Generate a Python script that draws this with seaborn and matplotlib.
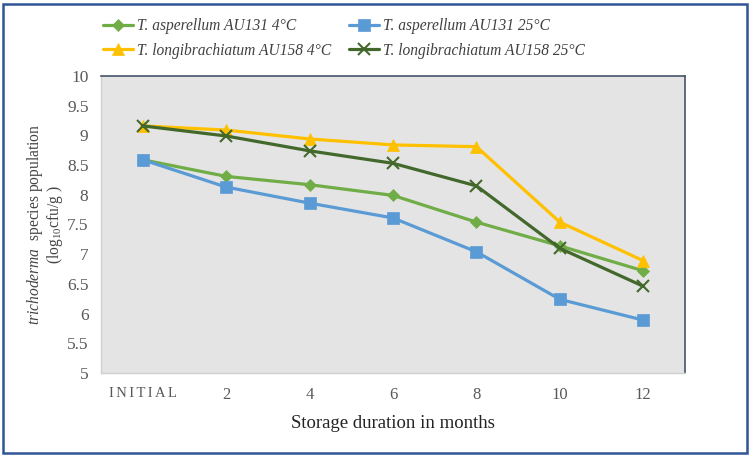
import matplotlib
matplotlib.use("Agg")
import matplotlib.pyplot as plt
import seaborn as sns
import pandas as pd
from matplotlib.patches import Rectangle

categories = ["I\u2006N\u2006I\u2006T\u2006I\u2006A\u2006L", "2", "4", "6", "8", "10", "12"]
asp_4 = [8.59, 8.31, 8.17, 7.99, 7.54, 7.14, 6.72]
asp_25 = [8.59, 8.13, 7.86, 7.61, 7.04, 6.24, 5.89]
lon_4 = [9.16, 9.09, 8.94, 8.84, 8.81, 7.54, 6.89]
lon_25 = [9.16, 8.99, 8.74, 8.53, 8.15, 7.10, 6.46]
series_names = ["T. asperellum AU131 4°C", "T. longibrachiatum AU158 4°C",
                "T. asperellum AU131 25°C", "T. longibrachiatum AU158 25°C"]
series_values = [asp_4, lon_4, asp_25, lon_25]
y_ticks = [5, 5.5, 6, 6.5, 7, 7.5, 8, 8.5, 9, 9.5, 10]

colors = ["#70AD47", "#FFC000", "#5B9BD5", "#43682B"]
markers = ["D", "^", "s", "x"]
msizes = [6.5, 9, 8.5, 8]

sns.set_theme(style="white")
plt.rcParams["font.family"] = ["Liberation Serif", "DejaVu Serif"]
plt.rcParams["mathtext.fontset"] = "custom"
plt.rcParams["mathtext.rm"] = "Liberation Serif"
plt.rcParams["mathtext.it"] = "Liberation Serif:italic"

fig = plt.figure(figsize=(7.51, 4.57), dpi=100)
ax = fig.add_axes([101/751, 1-373/457, (685-101)/751, (373-76)/457])
ax.set_facecolor("#E4E4E4")

for name, vals, c, m, ms in zip(series_names, series_values, colors, markers, msizes):
    df = pd.DataFrame({"x": categories, "y": vals})
    sns.lineplot(data=df, x="x", y="y", ax=ax, color=c, marker=m, markersize=ms,
                 linewidth=2.3, markeredgecolor=c, markeredgewidth=1.5 if m == "x" else 0.5,
                 label=name, sort=False)

ax.set_xlim(-0.5, 6.5)
ax.set_ylim(5, 10)
ax.set_yticks(y_ticks)
ax.set_yticklabels([f"{v:g}" for v in y_ticks])
ax.tick_params(axis="y", labelsize=12.5, colors="#595959", length=0, pad=9)
ax.tick_params(axis="x", labelsize=12, colors="#595959", length=0, pad=10)
ax.get_xticklabels()[0].set_fontsize(10.5)
ax.set_xlabel("Storage duration in months", fontsize=13.5, color="#222222", labelpad=9)
ax.set_ylabel("$\\it{trichoderma}$  species population\n(log$_{10}$cfu/g )",
              fontsize=11.2, color="#444444", labelpad=1.5, linespacing=1.0)

for s in ["top", "right"]:
    ax.spines[s].set_color("#44546A")
    ax.spines[s].set_linewidth(1.2)
for s in ["left", "bottom"]:
    ax.spines[s].set_color("#D0D0D0")
    ax.spines[s].set_linewidth(1.0)

handles, labels = ax.get_legend_handles_labels()
ax.get_legend().remove()
fig.legend(handles, labels, loc="upper left", bbox_to_anchor=(89/751, 1-4/457), ncol=2,
           frameon=False, prop={"family": "Liberation Serif", "style": "italic", "size": 11.2},
           handlelength=1.95, handletextpad=0.25, columnspacing=1.1, labelspacing=0.55,
           labelcolor="#404040")

fig.patches.append(Rectangle((3/751, 4/457), 744/751, 449/457, transform=fig.transFigure,
                             fill=False, edgecolor="#2F5597", linewidth=1.8))

fig.savefig("out.png", dpi=100)
